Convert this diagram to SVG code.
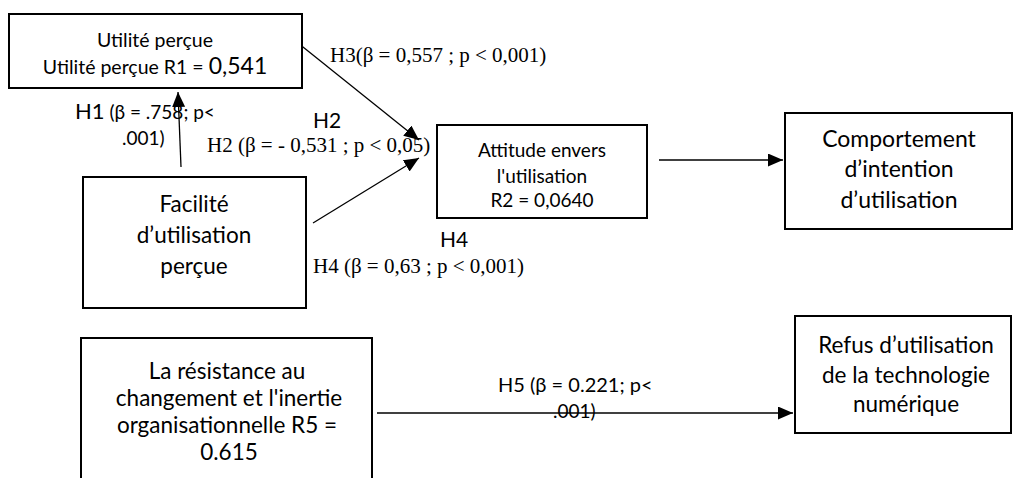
<svg xmlns="http://www.w3.org/2000/svg" width="1015" height="478" viewBox="0 0 1015 478">
<style>
.box{fill:#fff;stroke:#000;stroke-width:2}
.t{font-family:Lato,"Liberation Sans",sans-serif;fill:#000;text-anchor:middle}
.s{font-family:Lato,"Liberation Sans",sans-serif;fill:#000}
.r{font-family:"Liberation Serif","Times New Roman",serif;fill:#000;font-size:21px}
.c{stroke:#000;stroke-width:1.3;fill:none;marker-end:url(#ah)}
</style>
<defs>
<marker id="ah" markerUnits="userSpaceOnUse" markerWidth="16" markerHeight="14" refX="15" refY="6.5" orient="auto">
<path d="M0,0 L15,6.5 L0,13 z" fill="#000"/>
</marker>
</defs>
<rect width="1015" height="478" fill="#fff"/>
<g id="connectors">
<line class="c" x1="181" y1="167" x2="178" y2="92"/>
<line class="c" x1="298" y1="43" x2="419" y2="140"/>
<line class="c" x1="313" y1="223" x2="419" y2="158"/>
<line class="c" x1="659" y1="160" x2="783" y2="160"/>
<line class="c" x1="377" y1="413" x2="793" y2="413"/>
</g>
<g id="n-utilite">
<rect class="box" x="9" y="14" width="293" height="74"/>
<text class="t" x="155" y="47" font-size="19.5">Utilité perçue</text>
<text class="t" x="155" y="74" font-size="19.5">Utilité perçue R1 = <tspan font-size="23">0,541</tspan></text>
</g>
<g id="n-facilite">
<rect class="box" x="83" y="177" width="223" height="131"/>
<text class="t" x="194" y="212" font-size="22.5">Facilité</text>
<text class="t" x="194" y="243" font-size="22.5">d’utilisation</text>
<text class="t" x="194" y="274" font-size="22.5">perçue</text>
</g>
<g id="n-attitude">
<rect class="box" x="437" y="125" width="210" height="93"/>
<text class="t" x="542" y="157" font-size="19">Attitude envers</text>
<text class="t" x="542" y="183" font-size="19">l'utilisation</text>
<text class="t" x="542" y="207" font-size="19">R2 = 0,0640</text>
</g>
<g id="n-comportement">
<rect class="box" x="785" y="113" width="227" height="116"/>
<text class="t" x="899" y="147" font-size="23">Comportement</text>
<text class="t" x="899" y="177" font-size="23">d’intention</text>
<text class="t" x="899" y="208" font-size="23">d’utilisation</text>
</g>
<g id="n-resistance">
<rect class="box" x="81" y="338" width="291" height="160"/>
<text class="t" x="227" y="379" font-size="22.5">La résistance au</text>
<text class="t" x="229" y="406" font-size="22.5">changement et l'inertie</text>
<text class="t" x="227" y="433" font-size="22.5">organisationnelle R5 =</text>
<text class="t" x="229" y="460" font-size="22.5">0.615</text>
</g>
<g id="n-refus">
<rect class="box" x="795" y="316" width="216" height="117"/>
<text class="t" x="906" y="353" font-size="22.5">Refus d’utilisation</text>
<text class="t" x="906" y="383" font-size="22.5">de la technologie</text>
<text class="t" x="906" y="412" font-size="22.5">numérique</text>
</g>
<g id="labels">
<text class="s" x="75" y="119" font-size="19"><tspan font-size="22">H1</tspan> (β = .758; p&lt;</text>
<text class="s" x="122" y="145" font-size="19">.001)</text>
<text class="r" x="330" y="62">H3(β = 0,557 ; p &lt; 0,001)</text>
<text class="s" x="313" y="128" font-size="21">H2</text>
<text class="r" x="207" y="152">H2 (β = - 0,531 ; p &lt; 0,05)</text>
<text class="s" x="440" y="247" font-size="21">H4</text>
<text class="r" x="313" y="273">H4 (β = 0,63 ; p &lt; 0,001)</text>
<text class="s" x="498" y="392" font-size="20">H5 (β = 0.221; p&lt;</text>
<text class="s" x="553" y="418" font-size="19">.001)</text>
</g>
</svg>
